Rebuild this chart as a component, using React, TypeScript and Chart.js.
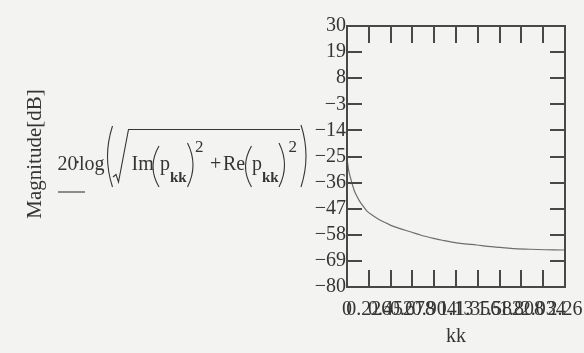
import React, { useEffect, useRef } from "react";
import { Chart, registerables } from "chart.js";

Chart.register(...registerables);

// kk values and magnitude [dB]
const kkValues = [0, 0.017, 0.035, 0.052, 0.075, 0.096, 0.13, 0.172, 0.207, 0.26, 0.311, 0.36, 0.414, 0.448, 0.55, 0.655, 0.77, 0.897, 1.0, 1.104, 1.22, 1.346, 1.46, 1.587, 1.74, 1.898, 2.05, 2.242, 2.26];
const magnitudeDb = [-26, -30.7, -33.8, -36.3, -39.3, -41.2, -43.8, -46.2, -48.0, -49.7, -51.0, -52.2, -53.2, -53.9, -55.4, -56.7, -58.2, -59.5, -60.4, -61.2, -61.8, -62.3, -62.9, -63.3, -63.8, -64.1, -64.3, -64.4, -64.4];

const xTickValues = [0, 0.226, 0.452, 0.678, 0.904, 1.13, 1.356, 1.582, 1.808, 2.034, 2.26];
const xTickLabels = ["0", "0.226", "0.452", "0.678", "0.904", "1.13", "1.356", "1.582", "1.808", "2.034", "2.26"];
const yTickValues = [30, 19, 8, -3, -14, -25, -36, -47, -58, -69, -80];

const INK = "#353535";
const SERIF = "'Liberation Serif', 'DejaVu Serif', serif";

const decorPlugin = {
  id: "decor",
  beforeDraw(chart: any) {
    const ctx = chart.ctx;
    ctx.save();
    ctx.fillStyle = "#f3f3f1";
    ctx.fillRect(0, 0, chart.width, chart.height);
    ctx.restore();
  },
  afterDraw(chart: any) {
    const ctx = chart.ctx;
    const { left, right, top, bottom } = chart.chartArea;
    const xs = chart.scales.x;
    const ys = chart.scales.y;
    ctx.save();
    // frame
    ctx.strokeStyle = "#484848";
    ctx.lineWidth = 2;
    ctx.strokeRect(left, top, right - left, bottom - top);
    // inward ticks
    for (let i = 1; i < xTickValues.length - 1; i++) {
      const px = Math.round(xs.getPixelForValue(xTickValues[i]));
      ctx.beginPath();
      ctx.moveTo(px, top);
      ctx.lineTo(px, top + 17);
      ctx.moveTo(px, bottom);
      ctx.lineTo(px, bottom - 17);
      ctx.stroke();
    }
    for (let i = 1; i < yTickValues.length - 1; i++) {
      const py = Math.round(ys.getPixelForValue(yTickValues[i]));
      ctx.beginPath();
      ctx.moveTo(left, py);
      ctx.lineTo(left + 15, py);
      ctx.moveTo(right, py);
      ctx.lineTo(right - 15, py);
      ctx.stroke();
    }

    ctx.fillStyle = INK;
    ctx.strokeStyle = INK;
    // axis title x
    ctx.font = `20px ${SERIF}`;
    ctx.textAlign = "center";
    ctx.textBaseline = "middle";
    ctx.fillText("kk", 456, 337);

    // y title rotated
    ctx.save();
    ctx.translate(35, 154);
    ctx.rotate(-Math.PI / 2);
    ctx.font = `21px ${SERIF}`;
    ctx.fillText("Magnitude[dB]", 0, 0);
    ctx.restore();

    // formula
    ctx.textAlign = "left";
    ctx.textBaseline = "alphabetic";
    ctx.font = `20px ${SERIF}`;
    ctx.fillText("20", 57.5, 170);
    ctx.beginPath();
    ctx.arc(77.5, 162, 1.2, 0, Math.PI * 2);
    ctx.fill();
    ctx.fillText("log", 79, 170);
    ctx.fillText("Im", 131.5, 170);
    ctx.fillText("p", 160, 170);
    ctx.fillText("+", 210, 170);
    ctx.fillText("Re", 223, 170);
    ctx.fillText("p", 252, 170);
    ctx.font = `bold 15px ${SERIF}`;
    ctx.fillText("kk", 170, 182);
    ctx.fillText("kk", 262, 182);
    ctx.font = `17px ${SERIF}`;
    ctx.fillText("2", 195, 152);
    ctx.fillText("2", 288.5, 152);

    ctx.lineWidth = 1.1;
    const paren = (x: number, y0: number, y1: number, off: number) => {
      ctx.beginPath();
      ctx.moveTo(x, y0);
      ctx.quadraticCurveTo(x + off * 2, (y0 + y1) / 2, x, y1);
      ctx.stroke();
    };
    // outer parens
    paren(112.5, 126, 187, -5);
    paren(301, 125, 187, 5);
    // inner parens
    paren(159, 146, 187, -6);
    paren(187.5, 143, 187, 5.5);
    paren(251.5, 146, 187, -6);
    paren(279, 143, 187, 5.5);
    // radical
    ctx.beginPath();
    ctx.moveTo(113, 177);
    ctx.lineTo(116, 174.5);
    ctx.lineTo(118.5, 182);
    ctx.lineTo(128.5, 129.5);
    ctx.lineTo(300, 129.5);
    ctx.stroke();
    // short line under 20
    ctx.beginPath();
    ctx.moveTo(58, 192);
    ctx.lineTo(85, 192);
    ctx.stroke();
    ctx.restore();
  },
};

export default function App() {
  const ref = useRef<HTMLCanvasElement>(null);
  useEffect(() => {
    document.body.style.margin = "0";
    const chart = new Chart(ref.current!, {
      type: "line",
      data: {
        datasets: [
          {
            data: kkValues.map((x, i) => ({ x, y: magnitudeDb[i] })),
            borderColor: "#6e6e6e",
            borderWidth: 1.2,
            pointRadius: 0,
            tension: 0.3,
            fill: false,
          },
        ],
      },
      options: {
        responsive: false,
        animation: false,
        devicePixelRatio: 1,
        layout: { padding: { left: 0, right: 19, top: 26, bottom: 0 } },
        plugins: { legend: { display: false }, tooltip: { enabled: false } },
        scales: {
          x: {
            type: "linear",
            min: 0,
            max: 2.26,
            grid: { display: false, drawTicks: false },
            border: { display: false },
            afterBuildTicks: (scale: any) => {
              scale.ticks = xTickValues.map((v) => ({ value: v }));
            },
            afterFit: (scale: any) => {
              scale.height = 66;
              scale.paddingLeft = 0;
              scale.paddingRight = 0;
            },
            ticks: {
              autoSkip: false,
              maxRotation: 0,
              minRotation: 0,
              padding: 11,
              color: INK,
              font: { family: SERIF, size: 20 },
              callback: (_v: any, i: number) => xTickLabels[i],
            },
          },
          y: {
            type: "linear",
            min: -80,
            max: 30,
            grid: { display: false, drawTicks: false },
            border: { display: false },
            afterBuildTicks: (scale: any) => {
              scale.ticks = yTickValues.map((v) => ({ value: v }));
            },
            afterFit: (scale: any) => {
              scale.width = 347;
              scale.paddingTop = 0;
              scale.paddingBottom = 0;
            },
            ticks: {
              autoSkip: false,
              padding: 1,
              color: INK,
              font: { family: SERIF, size: 20 },
              callback: (v: any) => (Number(v) < 0 ? "\u2212" + Math.abs(Number(v)) : String(v)),
            },
          },
        },
      },
      plugins: [decorPlugin],
    });
    return () => chart.destroy();
  }, []);
  return (
    <div style={{ position: "absolute", left: 0, top: 0, width: 584, height: 353 }}>
      <canvas ref={ref} width={584} height={353} />
    </div>
  );
}
